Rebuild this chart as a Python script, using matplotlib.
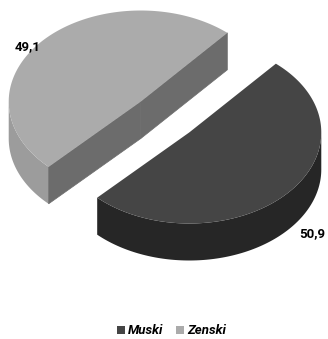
import numpy as np
import matplotlib
matplotlib.use("Agg")
import matplotlib.pyplot as plt
from matplotlib.patches import Polygon

labels = ["Muski", "Zenski"]
values = [50.9, 49.1]
value_text = ["50,9", "49,1"]
top_colors = ["#454545", "#ababab"]
side_colors = ["#262626", "#9c9c9c"]
cut_colors = ["#333333", "#6c6c6c"]

# layout of the fake 3d pie (pixel units of the 328x339 canvas)
CX, CY = 165, 117       # centre of un-exploded pie
R = 132                 # radius along x
SQ = 0.69               # vertical squash of the tilted top
DEPTH = 37              # thickness of the slab
EXPLODE = 0.25          # in radius units
SPLIT = 49.0            # angle of the first cut (deg, ccw)

fig = plt.figure(figsize=(3.28, 3.39), dpi=100)
ax = fig.add_axes([0, 0, 1, 1])
ax.set_xlim(0, 328)
ax.set_ylim(339, 0)
ax.axis("off")


def to_screen(cx, cy, th, dz=0.0):
    return cx + R * np.cos(th), cy - R * SQ * np.sin(th) + dz


# Zenski sits in the back (upper left) so it is drawn first
frac = np.array(values) / sum(values)
spans = {
    "Zenski": (SPLIT, SPLIT + 360 * frac[1]),
    "Muski": (SPLIT + 360 * frac[1], SPLIT + 360),
}

for name in ["Zenski", "Muski"]:
    i = labels.index(name)
    a1, a2 = np.radians(spans[name])
    mid = (a1 + a2) / 2
    cx = CX + EXPLODE * R * np.cos(mid)
    cy = CY - EXPLODE * R * SQ * np.sin(mid)

    # visible curved wall: front half of the rim (180..360 deg)
    lo, hi = max(a1, np.pi), min(a2, 2 * np.pi)
    if hi > lo:
        th = np.linspace(lo, hi, 120)
        xt, yt = to_screen(cx, cy, th)
        xb, yb = to_screen(cx, cy, th[::-1], DEPTH)
        wall = np.column_stack([np.r_[xt, xb], np.r_[yt, yb]])
        ax.add_patch(Polygon(wall, closed=True, fc=side_colors[i], ec="none"))

    # radial cut faces, only visible on the back slice
    if name == "Zenski":
        for a in (a1, a2):
            xr, yr = to_screen(cx, cy, a)
            face = [(cx, cy), (xr, yr), (xr, yr + DEPTH), (cx, cy + DEPTH)]
            ax.add_patch(Polygon(face, closed=True, fc=cut_colors[i],
                                 ec=cut_colors[i], lw=0.5))

    # top face
    th = np.linspace(a1, a2, 200)
    xt, yt = to_screen(cx, cy, th)
    top = np.column_stack([np.r_[cx, xt], np.r_[cy, yt]])
    ax.add_patch(Polygon(top, closed=True, fc=top_colors[i], ec="none"))

lbl_font = ["Roboto", "DejaVu Sans"]
ax.text(28, 47, value_text[1], fontsize=9.5, fontweight="bold", ha="center",
        va="center", family=lbl_font)
ax.text(312, 234, value_text[0], fontsize=9.5, fontweight="bold", ha="center",
        va="center", family=lbl_font)

# legend
lx = [121, 180]
for i, name in enumerate(labels):
    ax.scatter(lx[i], 330, marker="s", s=28, color=top_colors[i], lw=0)
    ax.text(lx[i] + 7, 330, name, fontsize=9.5, style="italic", fontweight="bold",
            ha="left", va="center", family=lbl_font)

fig.savefig("out.png", dpi=100, facecolor="white")
